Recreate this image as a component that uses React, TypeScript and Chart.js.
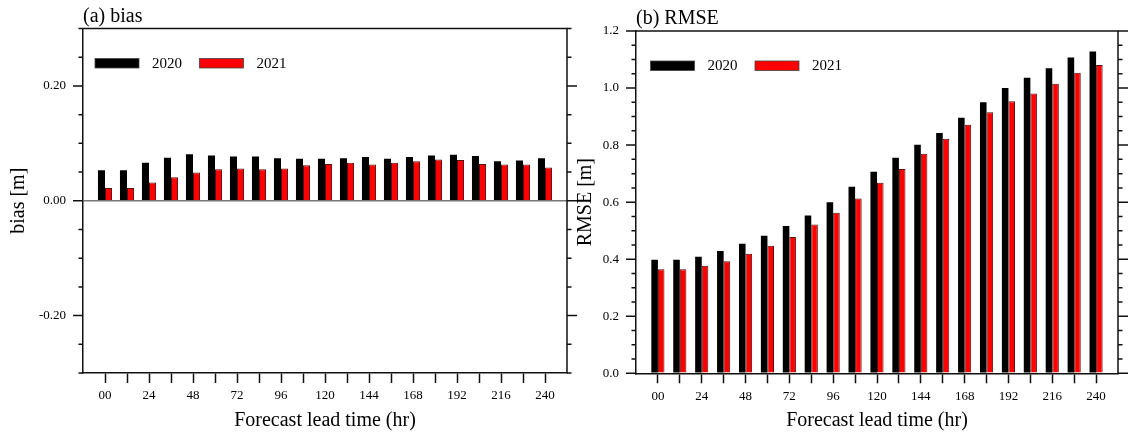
import React, { useEffect, useRef } from 'react';
import { Chart, registerables } from 'chart.js';

Chart.register(...registerables);

// ---------- data ----------
const leadHours = [0, 12, 24, 36, 48, 60, 72, 84, 96, 108, 120, 132, 144, 156, 168, 180, 192, 204, 216, 228, 240];
const leadLabels = ['00', '12', '24', '36', '48', '60', '72', '84', '96', '108', '120', '132', '144', '156', '168', '180', '192', '204', '216', '228', '240'];
const shownLeadLabels = ['00', '24', '48', '72', '96', '120', '144', '168', '192', '216', '240'];

const seriesLabels = ['2020', '2021'];
const seriesColors = ['#000000', '#ff0000'];
const seriesBorders = ['#000000', '#5a1010'];

const bias2020 = [0.053, 0.053, 0.066, 0.075, 0.081, 0.079, 0.077, 0.077, 0.074, 0.073, 0.073, 0.074, 0.076, 0.073, 0.076, 0.079, 0.080, 0.078, 0.069, 0.070, 0.074];
const bias2021 = [0.022, 0.022, 0.032, 0.041, 0.049, 0.055, 0.056, 0.055, 0.056, 0.062, 0.064, 0.066, 0.063, 0.066, 0.069, 0.072, 0.071, 0.064, 0.063, 0.063, 0.058];

const rmse2020 = [0.398, 0.398, 0.409, 0.429, 0.454, 0.482, 0.516, 0.553, 0.600, 0.654, 0.707, 0.756, 0.801, 0.842, 0.896, 0.950, 1.000, 1.036, 1.069, 1.107, 1.128];
const rmse2021 = [0.365, 0.365, 0.377, 0.393, 0.419, 0.447, 0.478, 0.522, 0.563, 0.613, 0.668, 0.716, 0.770, 0.822, 0.871, 0.915, 0.954, 0.981, 1.015, 1.054, 1.081];

const biasMajorTicks = [-0.2, 0, 0.2];
const biasMajorLabels = ['-0.20', '0.00', '0.20'];
const rmseMajorTicks = [0, 0.2, 0.4, 0.6, 0.8, 1.0, 1.2];
const rmseMajorLabels = ['0.0', '0.2', '0.4', '0.6', '0.8', '1.0', '1.2'];

const SERIF = '"Liberation Serif", "Times New Roman", serif';
const AXIS = '#111111';

function majorIndex(v: number, majors: number[]) {
  return majors.findIndex((m) => Math.abs(m - v) < 1e-6);
}

// draws top/right frame, outward y ticks on both sides, panel title and legend
const framePlugin = {
  id: 'frameDeco',
  afterDraw(chart: any, _args: any, opts: any) {
    const { ctx, chartArea: a } = chart;
    const ys = chart.scales.y;
    ctx.save();
    ctx.strokeStyle = AXIS;
    ctx.lineWidth = 1.5;
    ctx.beginPath();
    ctx.moveTo(a.left, a.top);
    ctx.lineTo(a.right, a.top);
    ctx.lineTo(a.right, a.bottom);
    ctx.stroke();
    ys.ticks.forEach((t: any) => {
      const py = ys.getPixelForValue(t.value);
      const len = majorIndex(t.value, opts.majors) >= 0 ? 10 : 4.5;
      ctx.beginPath();
      ctx.moveTo(a.left - len, py);
      ctx.lineTo(a.left, py);
      ctx.moveTo(a.right, py);
      ctx.lineTo(a.right + len, py);
      ctx.stroke();
    });
    // title
    ctx.fillStyle = '#000';
    ctx.font = `20px ${SERIF}`;
    ctx.textAlign = 'left';
    ctx.textBaseline = 'alphabetic';
    ctx.fillText(opts.title, a.left, a.top - 7);
    // legend
    const rx0 = a.left + opts.legendDx;
    const ry = a.top + 30;
    chart.data.datasets.forEach((ds: any, i: number) => {
      const rx = rx0 + i * 104.5;
      ctx.fillStyle = ds.backgroundColor;
      ctx.fillRect(rx, ry, 44, 9.5);
      ctx.strokeStyle = '#444';
      ctx.lineWidth = 0.8;
      ctx.strokeRect(rx, ry, 44, 9.5);
      ctx.fillStyle = '#000';
      ctx.font = `15px ${SERIF}`;
      ctx.textBaseline = 'middle';
      ctx.fillText(ds.label, rx + 57, ry + 5.5);
    });
    ctx.restore();
  },
};

type PanelSpec = {
  canvasLeft: number;
  canvasWidth: number;
  yAxisWidth: number;
  padTop: number;
  padRight: number;
  xAxisHeight: number;
  yMin: number;
  yMax: number;
  title: string;
  yTitle: string;
  yTitlePad: number;
  s2020: number[];
  s2021: number[];
  majors: number[];
  majorLabels: string[];
  zeroLine: boolean;
  catPct: number;
  legendDx: number;
};

function Panel({ spec }: { spec: PanelSpec }) {
  const ref = useRef<HTMLCanvasElement | null>(null);
  useEffect(() => {
    if (!ref.current) return;
    const series = [spec.s2020, spec.s2021];
    const chart = new Chart(ref.current, {
      type: 'bar',
      data: {
        datasets: series.map((s, i) => ({
          label: seriesLabels[i],
          data: leadHours.map((h, j) => ({ x: h, y: s[j] })),
          backgroundColor: seriesColors[i],
          borderColor: seriesBorders[i],
          borderWidth: i === 0 ? 0 : 1,
          barPercentage: 1,
          categoryPercentage: spec.catPct,
        })),
      },
      options: {
        animation: false,
        responsive: false,
        devicePixelRatio: 1,
        layout: { padding: { top: spec.padTop, right: spec.padRight, left: 0, bottom: 0 } },
        plugins: {
          legend: { display: false },
          tooltip: { enabled: false },
          frameDeco: { title: spec.title, majors: spec.majors, legendDx: spec.legendDx },
        } as any,
        scales: {
          x: {
            type: 'linear',
            offset: false,
            min: -12,
            max: 252,
            afterBuildTicks: (scale: any) => {
              scale.ticks = scale.ticks.filter((t: any) => t.value >= leadHours[0] && t.value <= leadHours[leadHours.length - 1]);
            },
            afterFit: (scale: any) => {
              scale.height = spec.xAxisHeight;
            },
            ticks: {
              stepSize: 12,
              autoSkip: false,
              maxRotation: 0,
              minRotation: 0,
              padding: 5,
              color: '#000',
              font: { family: SERIF, size: 13 },
              callback: (v: any) => {
                const idx = leadHours.indexOf(Number(v));
                if (idx < 0) return '';
                const lab = leadLabels[idx];
                return shownLeadLabels.includes(lab) ? lab : '';
              },
            },
            grid: {
              display: true,
              offset: false,
              drawOnChartArea: false,
              drawTicks: true,
              tickLength: 10,
              tickColor: AXIS,
              tickWidth: 1.5,
            },
            border: { display: true, color: AXIS, width: 1.5 },
            title: {
              display: true,
              text: 'Forecast lead time (hr)',
              color: '#000',
              font: { family: SERIF, size: 20 },
              padding: { top: 0, bottom: 2 },
            },
          },
          y: {
            type: 'linear',
            min: spec.yMin,
            max: spec.yMax,
            afterFit: (scale: any) => {
              scale.width = spec.yAxisWidth;
            },
            ticks: {
              stepSize: 0.05,
              autoSkip: false,
              padding: 17,
              color: '#000',
              font: { family: SERIF, size: 13 },
              callback: (v: any) => {
                const idx = majorIndex(Number(v), spec.majors);
                return idx >= 0 ? spec.majorLabels[idx] : '';
              },
            },
            grid: {
              display: true,
              drawOnChartArea: spec.zeroLine,
              drawTicks: false,
              color: (c: any) => (c.tick && Math.abs(c.tick.value) < 1e-9 ? '#777777' : 'rgba(0,0,0,0)'),
              lineWidth: 1.5,
            },
            border: { display: true, color: AXIS, width: 1.5 },
            title: {
              display: true,
              text: spec.yTitle,
              color: '#000',
              font: { family: SERIF, size: 20 },
              padding: { top: spec.yTitlePad, bottom: 0 },
            },
          },
        },
      } as any,
      plugins: [framePlugin as any],
    });
    return () => chart.destroy();
  }, [spec]);
  return (
    <canvas
      ref={ref}
      width={spec.canvasWidth}
      height={435}
      style={{ position: 'absolute', left: spec.canvasLeft, top: 0, width: spec.canvasWidth, height: 435 }}
    />
  );
}

const biasSpec: PanelSpec = {
  canvasLeft: 0,
  canvasWidth: 600,
  yAxisWidth: 83,
  padTop: 28.5,
  padRight: 33,
  xAxisHeight: 62,
  yMin: -0.3,
  yMax: 0.3,
  title: '(a) bias',
  yTitle: 'bias [m]',
  yTitlePad: 7,
  s2020: bias2020,
  s2021: bias2021,
  majors: biasMajorTicks,
  majorLabels: biasMajorLabels,
  zeroLine: true,
  catPct: 0.64,
  legendDx: 12,
};

const rmseSpec: PanelSpec = {
  canvasLeft: 564,
  canvasWidth: 564,
  yAxisWidth: 72,
  padTop: 31,
  padRight: 10,
  xAxisHeight: 61.7,
  yMin: 0,
  yMax: 1.2,
  title: '(b) RMSE',
  yTitle: 'RMSE [m]',
  yTitlePad: 10,
  s2020: rmse2020,
  s2021: rmse2021,
  majors: rmseMajorTicks,
  majorLabels: rmseMajorLabels,
  zeroLine: false,
  catPct: 0.6,
  legendDx: 14.5,
};

export default function App() {
  return (
    <div style={{ position: 'fixed', left: 0, top: 0, width: 1128, height: 435, background: '#fff', overflow: 'hidden' }}>
      <Panel spec={biasSpec} />
      <Panel spec={rmseSpec} />
    </div>
  );
}
